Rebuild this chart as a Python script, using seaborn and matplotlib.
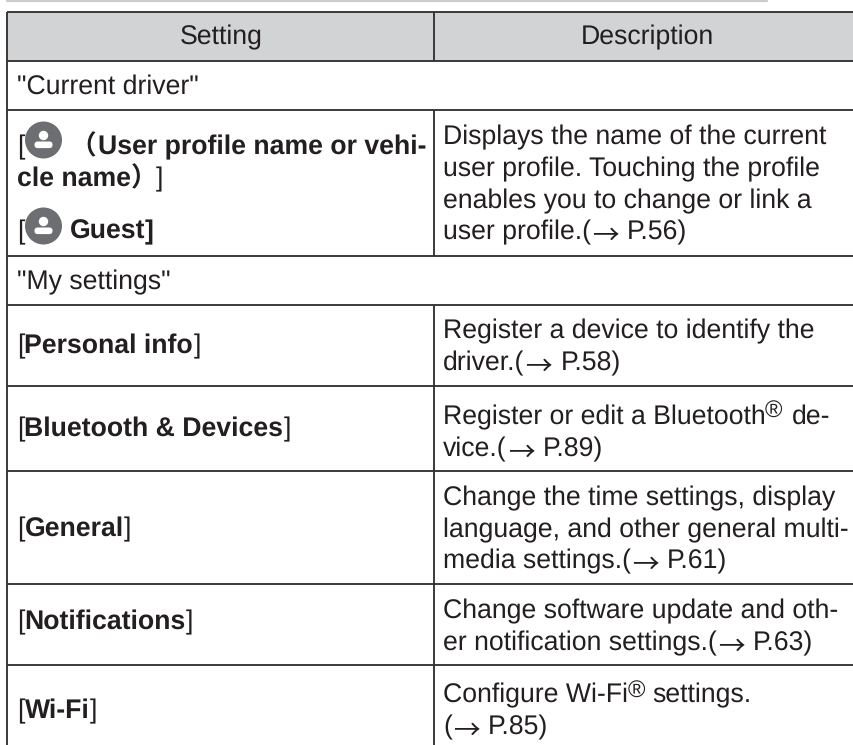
import matplotlib
matplotlib.use("Agg")
import matplotlib.pyplot as plt
from matplotlib.patches import Circle, FancyBboxPatch
import seaborn as sns

# ---- table content ----
headers = ["Setting", "Description"]
section_labels = ['"Current driver"', '"My settings"']
setting_names = ["Personal info", "Bluetooth & Devices", "General", "Notifications", "Wi-Fi"]
profile_bold_1 = "User profile name or vehi-"
profile_bold_2 = "cle name"
guest_label = "Guest"
desc_profile = ["Displays the name of the current", "user profile. Touching the profile",
                "enables you to change or link a", "user profile.(\u2192 P.56)"]
desc_personal = ["Register a device to identify the", "driver.(\u2192 P.58)"]
desc_bluetooth = ["Register or edit a Bluetooth", " de-", "vice.(\u2192 P.89)"]
desc_general = ["Change the time settings, display", "language, and other general multi-",
                "media settings.(\u2192 P.61)"]
desc_notif = ["Change software update and oth-", "er notification settings.(\u2192 P.63)"]
desc_wifi = ["Configure Wi-Fi", " settings.", "(\u2192 P.85)"]

# ---- layout (pixels of the 854x745 canvas) ----
H_RULES = [12, 61, 110, 256, 305, 386, 471, 584, 665]
X_L, X_M, X_R = 7.5, 434.5, 854
INK = "#231f20"
RULE = "#333333"
FILL = "#d1d3d4"
ICON = "#6d6e71"
FS = 19.15
LW = 1.35
DY = 1.0
ARROW = "\u2192"

sns.set_theme(style="white", rc={"font.family": ["Liberation Sans", "Noto Sans CJK SC", "DejaVu Sans"],
                                 "text.hinting": "no_hinting"})
fig, ax = plt.subplots(figsize=(8.54, 7.45), dpi=100)
ax.set_position([0, 0, 1, 1])
ax.set_xlim(0, 854)
ax.set_ylim(745, 0)
ax.set_axis_off()
sns.despine(ax=ax, left=True, bottom=True)


def put(x, y, s, bold=False, ha="left", size=FS):
    y = y + DY
    if ARROW in s:
        before, after = s.split(ARROW)
        first = ax.text(x, y, before, va="baseline", fontsize=size, color=INK)
        fig.canvas.draw()
        ax_x = first.get_window_extent().x1 + 1
        ax.text(ax_x, y + 5, ARROW, va="baseline", fontsize=size, color=INK, family="Noto Sans CJK SC")
        return ax.text(ax_x + 35, y, after.strip(), va="baseline", fontsize=size, color=INK)
    return ax.text(x, y, s, ha=ha, va="baseline", fontsize=size, color=INK,
                   fontweight="bold" if bold else "normal")


def icon(cx, cy):
    ax.add_patch(Circle((cx, cy), 18.5, fc=ICON, ec="none", zorder=3))
    ax.add_patch(Circle((cx, cy - 4.5), 4.7, fc="white", ec="none", zorder=4))
    ax.add_patch(FancyBboxPatch((cx - 6.5, cy + 4), 13, 1.6, boxstyle="round,pad=2.5,rounding_size=3.2",
                                fc="white", ec="none", zorder=4))


# header fill and rules
ax.fill_between([X_L, X_R], H_RULES[0], H_RULES[1], color=FILL, lw=0, zorder=0)
ax.plot([7, 767], [0.5, 0.5], color="#cccccc", lw=1.6, zorder=1)
ax.hlines(H_RULES, X_L, X_R, color=RULE, lw=LW, zorder=2)
ax.vlines(X_L, H_RULES[0], 745, color=RULE, lw=LW, zorder=2)
for top, bot in [(H_RULES[0], H_RULES[1]), (H_RULES[2], H_RULES[3]), (H_RULES[4], 745)]:
    ax.vlines(X_M, top, bot, color=RULE, lw=LW, zorder=2)

# header
put(221, 43, headers[0], ha="center")
put(647, 43, headers[1], ha="center")

# section rows
put(17, 93, section_labels[0])
put(17, 288, section_labels[1])

# profile row
put(17, 153, "[")
icon(43.5, 140)
put(69, 153, "\uff08", bold=True)
put(98, 153, profile_bold_1, bold=True)
put(17, 185, profile_bold_2, bold=True)
put(131, 185, "\uff09", bold=True)
put(156, 185, "]")
put(17, 238, "[")
icon(43.5, 226)
put(70, 238, guest_label, bold=True)
put(145, 238, "]", bold=True)

# setting rows
for name, y in zip(setting_names, [352, 435, 535, 628, 717]):
    put(17, y, "[")
    txt = put(24.5, y, name, bold=True)
    fig.canvas.draw()
    put(txt.get_window_extent().x1 + 0.5, y, "]")

# description column
X_D = 443
for line, y in zip(desc_profile, [143, 175, 207, 238]):
    put(X_D, y, line)
for line, y in zip(desc_personal, [337, 369]):
    put(X_D, y, line)
put(X_D, 423, desc_bluetooth[0])
put(765, 416, "\u00ae", size=17)
put(792, 423, desc_bluetooth[1].strip())
put(X_D, 455, desc_bluetooth[2])
for line, y in zip(desc_general, [504, 536, 567]):
    put(X_D, y, line)
for line, y in zip(desc_notif, [617, 649]):
    put(X_D, y, line)
put(X_D, 701, desc_wifi[0])
put(628, 696, "\u00ae", size=17)
put(652, 701, desc_wifi[1].strip())
put(X_D, 733, desc_wifi[2])

fig.savefig("out.png", dpi=100, facecolor="white")
